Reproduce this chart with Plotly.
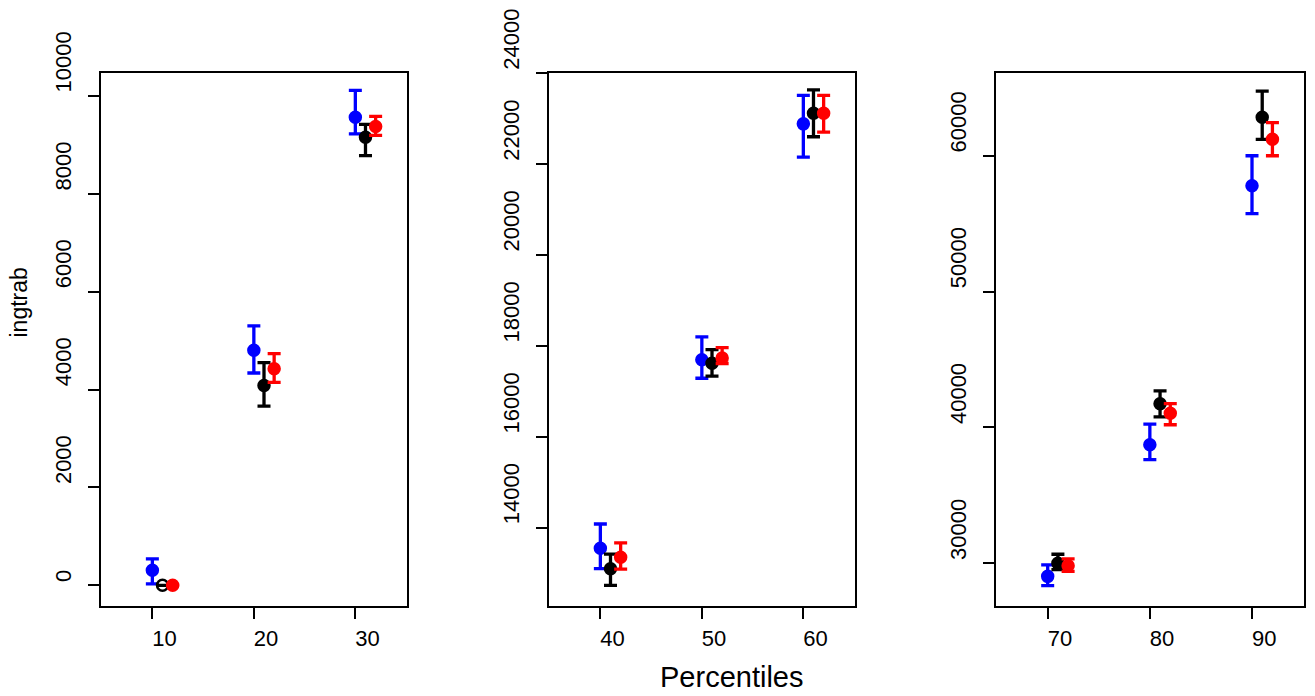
import plotly.graph_objects as go

# ---------------- data ----------------
# x positions: blue at percentile, black at +1, red at +2
pct_p1 = [10, 20, 30]
pct_p2 = [40, 50, 60]
pct_p3 = [70, 80, 90]

# panel 1 (values, upper, lower)
blue_p1 = [306, 4803, 9563]
blue_p1_hi = [539, 5299, 10110]
blue_p1_lo = [29, 4337, 9221]
black_p1 = [0, 4082, 9155]
black_p1_hi = [0, 4548, 9417]
black_p1_lo = [0, 3659, 8776]
red_p1 = [0, 4424, 9374]
red_p1_hi = [0, 4731, 9578]
red_p1_lo = [0, 4147, 9191]

# panel 2
blue_p2 = [13544, 17694, 22881]
blue_p2_hi = [14079, 18197, 23509]
blue_p2_lo = [13096, 17285, 22150]
black_p2 = [13096, 17615, 23116]
black_p2_hi = [13418, 17914, 23627]
black_p2_lo = [12727, 17332, 22598]
red_p2 = [13348, 17730, 23116]
red_p2_hi = [13662, 17960, 23509]
red_p2_lo = [13088, 17610, 22700]

# panel 3
blue_p3 = [29028, 38722, 57794]
blue_p3_hi = [29869, 40245, 60000]
blue_p3_lo = [28345, 37618, 55745]
black_p3 = [30000, 41743, 62838]
black_p3_hi = [30657, 42688, 64755]
black_p3_lo = [29527, 40771, 61208]
red_p3 = [29816, 41033, 61208]
red_p3_hi = [30315, 41743, 62443]
red_p3_lo = [29396, 40192, 60000]

ytick_p1 = [0, 2000, 4000, 6000, 8000, 10000]
ytick_p2 = [14000, 16000, 18000, 20000, 22000, 24000]
ytick_p3 = [30000, 40000, 50000, 60000]

y_title = "ingtrab"
x_title = "Percentiles"

# ---------------- layout geometry ----------------
W, H = 1315, 696
boxes_x = [(101, 407), (549, 855), (996, 1304)]
box_top, box_bot = 73, 606
xranges = [[4.94, 35.09], [34.94, 65.09], [64.94, 95.09]]
yranges = [[-423, 10466], [12275, 24000], [26846, 66094]]

FONT = "Liberation Sans, Arial, sans-serif"
FS = "\u2007"  # figure space (digit width) used to start-anchor labels at the tick


def start_anchored(label):
    return FS * len(label) + label


fig = go.Figure()

panels = [
    (pct_p1, [(blue_p1, blue_p1_hi, blue_p1_lo, "#0000FF", 0),
              (black_p1, black_p1_hi, black_p1_lo, "#000000", 1),
              (red_p1, red_p1_hi, red_p1_lo, "#FF0000", 2)], ytick_p1),
    (pct_p2, [(blue_p2, blue_p2_hi, blue_p2_lo, "#0000FF", 0),
              (black_p2, black_p2_hi, black_p2_lo, "#000000", 1),
              (red_p2, red_p2_hi, red_p2_lo, "#FF0000", 2)], ytick_p2),
    (pct_p3, [(blue_p3, blue_p3_hi, blue_p3_lo, "#0000FF", 0),
              (black_p3, black_p3_hi, black_p3_lo, "#000000", 1),
              (red_p3, red_p3_hi, red_p3_lo, "#FF0000", 2)], ytick_p3),
]

for i, (pct, series, yt) in enumerate(panels):
    ax = "" if i == 0 else str(i + 1)
    for vals, hi, lo, col, off in series:
        xs = [p + off for p in pct]
        up = [h - v for h, v in zip(hi, vals)]
        dn = [v - l for l, v in zip(lo, vals)]
        symbols = []
        for v, h, l in zip(vals, hi, lo):
            if col == "#000000" and h == v and l == v:
                symbols.append("circle-open")
            else:
                symbols.append("circle")
        fig.add_trace(go.Scatter(
            x=xs, y=vals, mode="markers",
            xaxis="x" + ax, yaxis="y" + ax,
            marker=dict(color=col, size=11, symbol=symbols,
                        line=dict(color=col, width=2.5)),
            error_y=dict(type="data", symmetric=False, array=up, arrayminus=dn,
                         color=col, thickness=3.3, width=6.5),
            showlegend=False, hoverinfo="x+y",
        ))
    x0, x1 = boxes_x[i]
    common = dict(showline=True, mirror=True, linecolor="black", linewidth=1.5,
                  ticks="outside", ticklen=11, tickwidth=1.5, tickcolor="black",
                  showgrid=False, zeroline=False, automargin=False,
                  tickfont=dict(family=FONT, size=22, color="black"))
    fig.layout["xaxis" + ax] = dict(
        common, domain=[x0 / W, x1 / W], range=xranges[i], anchor="y" + ax,
        tickvals=pct, ticktext=[start_anchored(str(p)) for p in pct],
        ticklabelstandoff=1)
    fig.layout["yaxis" + ax] = dict(
        common, domain=[1 - box_bot / H, 1 - box_top / H], range=yranges[i],
        anchor="x" + ax, tickvals=yt,
        ticktext=[start_anchored(str(v)) for v in yt],
        tickangle=-90, ticklabelstandoff=8)

fig.update_layout(
    width=W, height=H,
    margin=dict(l=0, r=0, t=0, b=0, autoexpand=False),
    paper_bgcolor="white", plot_bgcolor="white",
    font=dict(family=FONT, color="black"),
    annotations=[
        dict(text=y_title, x=18 / W, y=1 - 339.5 / H, xref="paper", yref="paper",
             xanchor="center", yanchor="bottom",
             showarrow=False, textangle=-90, font=dict(size=23, family=FONT)),
        dict(text=x_title, x=657.5 / W, y=1 - 677 / H, xref="paper", yref="paper",
             xanchor="left", yanchor="middle",
             showarrow=False, font=dict(size=29, family=FONT)),
    ],
)

fig.write_html(
    "out.html",
    config={"displayModeBar": False},
    post_script="document.body.style.margin='0';document.body.style.overflow='hidden';",
)
